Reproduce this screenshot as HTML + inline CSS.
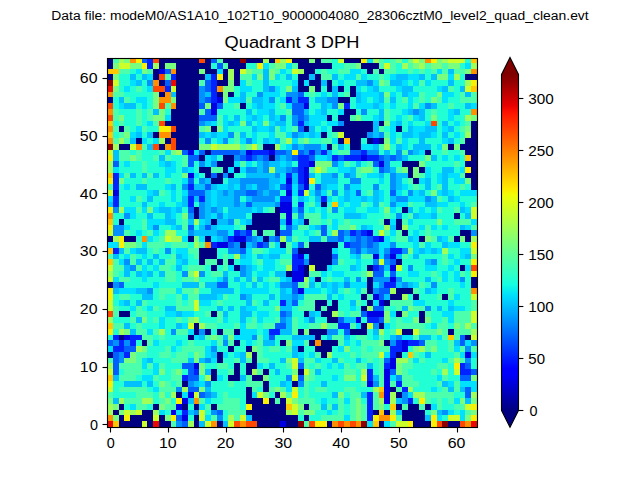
<!DOCTYPE html>
<html><head><meta charset="utf-8"><title>Quadrant 3 DPH</title>
<style>html,body{margin:0;padding:0;background:#fff;overflow:hidden}svg{display:block;position:absolute;left:0;top:0}text{font-family:"Liberation Sans",sans-serif;fill:#000}</style></head><body>
<svg width="640" height="480" viewBox="0 0 640 480">
<rect width="640" height="480" fill="#fff"/>
<defs><linearGradient id="jet" gradientUnits="userSpaceOnUse" x1="0" y1="74.4" x2="0" y2="410.4"><stop offset="0.0000" stop-color="#800000"/><stop offset="0.0156" stop-color="#8d0000"/><stop offset="0.0312" stop-color="#9f0000"/><stop offset="0.0469" stop-color="#b20000"/><stop offset="0.0625" stop-color="#c40000"/><stop offset="0.0781" stop-color="#d60000"/><stop offset="0.0938" stop-color="#e80000"/><stop offset="0.1094" stop-color="#fa0f00"/><stop offset="0.1250" stop-color="#ff1e00"/><stop offset="0.1406" stop-color="#ff2d00"/><stop offset="0.1562" stop-color="#ff3b00"/><stop offset="0.1719" stop-color="#ff4a00"/><stop offset="0.1875" stop-color="#ff5900"/><stop offset="0.2031" stop-color="#ff6800"/><stop offset="0.2188" stop-color="#ff7700"/><stop offset="0.2344" stop-color="#ff8600"/><stop offset="0.2500" stop-color="#ff9400"/><stop offset="0.2656" stop-color="#ffa300"/><stop offset="0.2812" stop-color="#ffb200"/><stop offset="0.2969" stop-color="#ffc100"/><stop offset="0.3125" stop-color="#ffd000"/><stop offset="0.3281" stop-color="#ffde00"/><stop offset="0.3438" stop-color="#feed00"/><stop offset="0.3594" stop-color="#f1fc06"/><stop offset="0.3750" stop-color="#e4ff13"/><stop offset="0.3906" stop-color="#d7ff1f"/><stop offset="0.4062" stop-color="#caff2c"/><stop offset="0.4219" stop-color="#beff39"/><stop offset="0.4375" stop-color="#b1ff46"/><stop offset="0.4531" stop-color="#a4ff53"/><stop offset="0.4688" stop-color="#97ff60"/><stop offset="0.4844" stop-color="#8aff6d"/><stop offset="0.5000" stop-color="#7dff7a"/><stop offset="0.5156" stop-color="#70ff87"/><stop offset="0.5312" stop-color="#63ff94"/><stop offset="0.5469" stop-color="#56ffa0"/><stop offset="0.5625" stop-color="#49ffad"/><stop offset="0.5781" stop-color="#3cffba"/><stop offset="0.5938" stop-color="#30ffc7"/><stop offset="0.6094" stop-color="#23ffd4"/><stop offset="0.6250" stop-color="#16ffe1"/><stop offset="0.6406" stop-color="#09f0ee"/><stop offset="0.6562" stop-color="#00e0fb"/><stop offset="0.6719" stop-color="#00d0ff"/><stop offset="0.6875" stop-color="#00c0ff"/><stop offset="0.7031" stop-color="#00b0ff"/><stop offset="0.7188" stop-color="#00a0ff"/><stop offset="0.7344" stop-color="#0090ff"/><stop offset="0.7500" stop-color="#0080ff"/><stop offset="0.7656" stop-color="#0070ff"/><stop offset="0.7812" stop-color="#0060ff"/><stop offset="0.7969" stop-color="#0050ff"/><stop offset="0.8125" stop-color="#0040ff"/><stop offset="0.8281" stop-color="#0030ff"/><stop offset="0.8438" stop-color="#0020ff"/><stop offset="0.8594" stop-color="#0010ff"/><stop offset="0.8750" stop-color="#0000ff"/><stop offset="0.8906" stop-color="#0000ff"/><stop offset="0.9062" stop-color="#0000ed"/><stop offset="0.9219" stop-color="#0000da"/><stop offset="0.9375" stop-color="#0000c8"/><stop offset="0.9531" stop-color="#0000b6"/><stop offset="0.9688" stop-color="#0000a4"/><stop offset="0.9844" stop-color="#000092"/><stop offset="1.0000" stop-color="#000080"/></linearGradient></defs>
<g shape-rendering="crispEdges">
<path fill="#000080" d="M107 58h6v5h-6zM159 58h40v5h-40zM205 58h6v5h-6zM223 58h17v5h-17zM246 58h17v5h-17zM269 58h6v5h-6zM292 58h17v5h-17zM315 58h6v5h-6zM344 58h17v5h-17zM107 63h6v6h-6zM159 63h6v6h-6zM176 63h35v6h-35zM228 63h18v6h-18zM298 63h34v6h-34zM361 63h18v6h-18zM153 69h6v5h-6zM176 69h23v5h-23zM205 69h12v5h-12zM223 69h5v5h-5zM234 69h6v5h-6zM304 69h11v5h-11zM367 69h6v5h-6zM379 69h5v5h-5zM107 74h6v6h-6zM153 74h6v6h-6zM176 74h29v6h-29zM223 74h5v6h-5zM234 74h6v6h-6zM298 74h11v6h-11zM315 74h6v6h-6zM465 74h13v6h-13zM159 80h6v6h-6zM176 80h23v6h-23zM217 80h11v6h-11zM234 80h6v6h-6zM298 80h6v6h-6zM309 80h12v6h-12zM327 80h5v6h-5zM176 86h23v6h-23zM298 86h11v6h-11zM315 86h6v6h-6zM327 86h5v6h-5zM338 86h6v6h-6zM350 86h6v6h-6zM159 92h6v5h-6zM176 92h23v5h-23zM217 92h6v5h-6zM228 92h6v5h-6zM350 92h6v5h-6zM107 97h6v6h-6zM176 97h23v6h-23zM338 97h12v6h-12zM176 103h23v6h-23zM240 103h6v6h-6zM171 109h28v6h-28zM344 109h12v6h-12zM171 115h28v6h-28zM327 115h5v6h-5zM338 115h12v6h-12zM165 121h34v5h-34zM344 121h29v5h-29zM379 121h5v5h-5zM471 121h7v5h-7zM119 126h5v6h-5zM176 126h23v6h-23zM211 126h6v6h-6zM304 126h5v6h-5zM332 126h41v6h-41zM396 126h6v6h-6zM471 126h7v6h-7zM153 132h6v6h-6zM171 132h28v6h-28zM321 132h6v6h-6zM344 132h23v6h-23zM471 132h7v6h-7zM136 138h6v6h-6zM165 138h6v6h-6zM176 138h23v6h-23zM338 138h6v6h-6zM350 138h11v6h-11zM367 138h6v6h-6zM379 138h5v6h-5zM465 138h13v6h-13zM119 144h11v6h-11zM159 144h6v6h-6zM176 144h23v6h-23zM263 144h12v6h-12zM327 144h5v6h-5zM350 144h11v6h-11zM448 144h6v6h-6zM460 144h18v6h-18zM205 150h6v5h-6zM425 150h6v5h-6zM465 150h13v5h-13zM199 155h6v6h-6zM223 155h11v6h-11zM269 155h6v6h-6zM471 155h7v6h-7zM217 161h17v6h-17zM402 161h17v6h-17zM465 161h13v6h-13zM199 167h12v6h-12zM223 167h5v6h-5zM234 167h6v6h-6zM408 167h5v6h-5zM419 167h6v6h-6zM471 167h7v6h-7zM205 173h6v5h-6zM217 173h6v5h-6zM228 173h6v5h-6zM408 173h5v5h-5zM465 173h13v5h-13zM211 178h12v6h-12zM413 178h6v6h-6zM471 178h7v6h-7zM471 184h7v6h-7zM321 202h6v5h-6zM194 207h5v6h-5zM275 207h5v6h-5zM402 207h6v6h-6zM194 213h5v6h-5zM252 213h28v6h-28zM454 213h6v6h-6zM119 219h5v6h-5zM211 219h6v6h-6zM252 219h28v6h-28zM304 219h5v6h-5zM384 219h6v6h-6zM396 219h6v6h-6zM246 225h34v5h-34zM396 225h6v5h-6zM257 230h6v6h-6zM275 230h5v6h-5zM402 230h6v6h-6zM460 230h11v6h-11zM107 236h6v6h-6zM124 236h12v6h-12zM188 236h6v6h-6zM205 236h6v6h-6zM263 236h6v6h-6zM419 236h6v6h-6zM454 236h6v6h-6zM465 236h6v6h-6zM240 242h6v6h-6zM280 242h6v6h-6zM309 242h29v6h-29zM199 248h18v6h-18zM298 248h34v6h-34zM199 254h18v5h-18zM309 254h23v5h-23zM199 259h6v6h-6zM217 259h6v6h-6zM228 259h6v6h-6zM309 259h23v6h-23zM396 259h6v6h-6zM211 265h6v6h-6zM234 265h6v6h-6zM304 265h5v6h-5zM315 265h12v6h-12zM367 265h6v6h-6zM460 265h5v6h-5zM286 271h6v6h-6zM304 271h5v6h-5zM315 277h6v5h-6zM367 277h6v5h-6zM471 277h7v5h-7zM107 282h6v6h-6zM367 282h6v6h-6zM471 282h7v6h-7zM367 288h6v6h-6zM396 288h17v6h-17zM361 294h6v6h-6zM390 294h12v6h-12zM413 294h6v6h-6zM442 294h6v6h-6zM315 300h12v6h-12zM332 300h6v6h-6zM367 300h6v6h-6zM384 300h6v6h-6zM315 306h6v5h-6zM327 306h11v5h-11zM361 306h6v5h-6zM119 311h11v6h-11zM211 311h6v6h-6zM304 311h5v6h-5zM321 311h11v6h-11zM396 311h6v6h-6zM419 311h6v6h-6zM327 317h11v6h-11zM419 317h6v6h-6zM194 323h5v6h-5zM361 323h6v6h-6zM379 323h5v6h-5zM194 329h5v6h-5zM205 329h6v6h-6zM217 329h6v6h-6zM234 329h6v6h-6zM298 329h6v6h-6zM309 329h18v6h-18zM350 329h17v6h-17zM402 329h11v6h-11zM448 329h6v6h-6zM119 335h5v5h-5zM188 335h6v5h-6zM315 335h6v5h-6zM465 335h6v5h-6zM142 340h5v6h-5zM234 340h6v6h-6zM280 340h6v6h-6zM309 340h6v6h-6zM321 340h17v6h-17zM384 340h6v6h-6zM228 346h6v6h-6zM246 346h6v6h-6zM298 346h6v6h-6zM315 346h17v6h-17zM107 352h6v6h-6zM217 352h6v6h-6zM252 352h5v6h-5zM321 352h6v6h-6zM396 352h6v6h-6zM217 358h6v5h-6zM252 358h5v5h-5zM234 363h6v6h-6zM246 363h11v6h-11zM211 369h6v6h-6zM234 369h6v6h-6zM246 369h6v6h-6zM263 369h6v6h-6zM298 369h6v6h-6zM211 375h6v6h-6zM228 375h12v6h-12zM252 375h11v6h-11zM182 381h6v6h-6zM263 381h6v6h-6zM292 381h6v6h-6zM246 387h6v5h-6zM263 387h6v5h-6zM390 387h6v5h-6zM176 392h6v6h-6zM246 392h6v6h-6zM275 392h5v6h-5zM396 392h6v6h-6zM246 398h17v6h-17zM269 398h6v6h-6zM280 398h6v6h-6zM119 404h5v6h-5zM153 404h6v6h-6zM182 404h6v6h-6zM194 404h5v6h-5zM211 404h6v6h-6zM252 404h34v6h-34zM304 404h5v6h-5zM396 404h6v6h-6zM408 404h11v6h-11zM425 404h6v6h-6zM113 410h6v5h-6zM142 410h11v5h-11zM246 410h40v5h-40zM373 410h6v5h-6zM384 410h6v5h-6zM402 410h23v5h-23zM119 415h5v6h-5zM130 415h23v6h-23zM159 415h6v6h-6zM194 415h5v6h-5zM252 415h46v6h-46zM304 415h5v6h-5zM402 415h23v6h-23zM119 421h23v7h-23zM147 421h6v7h-6zM159 421h12v7h-12zM194 421h5v7h-5zM217 421h6v7h-6zM257 421h23v7h-23zM286 421h12v7h-12zM327 421h5v7h-5zM379 421h5v7h-5zM413 421h18v7h-18zM448 421h12v7h-12z"/>
<path fill="#0000e4" d="M159 69h6v5h-6zM217 97h6v6h-6zM211 103h6v6h-6zM304 103h5v6h-5zM211 109h6v6h-6zM373 138h6v6h-6zM188 150h6v5h-6zM246 150h6v5h-6zM269 150h6v5h-6zM361 155h6v6h-6zM309 161h6v6h-6zM379 161h5v6h-5zM304 167h5v6h-5zM188 173h6v5h-6zM304 173h5v5h-5zM286 178h6v6h-6zM304 178h5v6h-5zM304 184h5v6h-5zM113 190h6v6h-6zM286 190h6v6h-6zM280 202h12v5h-12zM280 207h12v6h-12zM286 213h6v6h-6zM286 219h6v6h-6zM367 230h6v6h-6zM234 236h12v6h-12zM379 236h5v6h-5zM217 242h11v6h-11zM298 254h6v5h-6zM373 254h6v5h-6zM390 254h6v5h-6zM298 265h6v6h-6zM390 265h6v6h-6zM292 271h12v6h-12zM292 277h12v5h-12zM390 277h6v5h-6zM298 288h6v6h-6zM373 294h6v6h-6zM379 300h5v6h-5zM367 311h17v6h-17zM356 317h5v6h-5zM124 335h6v5h-6zM402 340h6v6h-6zM402 346h6v6h-6zM465 352h6v6h-6zM390 358h6v5h-6zM194 363h5v6h-5zM390 363h6v6h-6zM384 369h6v6h-6zM384 375h6v6h-6zM367 381h6v6h-6zM384 381h6v6h-6zM384 387h6v5h-6zM188 392h6v6h-6zM384 392h6v6h-6zM182 398h6v6h-6zM384 398h6v6h-6zM176 404h6v6h-6zM171 410h5v5h-5zM182 415h6v6h-6zM280 421h6v7h-6z"/>
<path fill="#0023ff" d="M147 58h6v5h-6zM147 63h6v6h-6zM171 74h5v6h-5zM211 74h6v6h-6zM211 80h6v6h-6zM165 86h6v6h-6zM211 86h6v6h-6zM211 92h6v5h-6zM211 97h6v6h-6zM286 97h6v6h-6zM298 97h11v6h-11zM344 103h6v6h-6zM298 121h6v5h-6zM252 150h17v5h-17zM309 150h6v5h-6zM321 150h6v5h-6zM361 150h6v5h-6zM246 155h6v6h-6zM298 155h11v6h-11zM332 155h6v6h-6zM344 155h17v6h-17zM367 155h12v6h-12zM298 161h11v6h-11zM298 167h6v6h-6zM113 173h6v5h-6zM286 173h6v5h-6zM298 173h6v5h-6zM113 178h6v6h-6zM298 178h6v6h-6zM113 184h6v6h-6zM188 184h6v6h-6zM286 184h6v6h-6zM298 190h6v6h-6zM113 196h6v6h-6zM188 196h6v6h-6zM199 196h6v6h-6zM280 196h12v6h-12zM321 196h6v6h-6zM113 202h6v5h-6zM188 202h6v5h-6zM298 202h6v5h-6zM234 230h6v6h-6zM246 230h6v6h-6zM350 230h6v6h-6zM361 230h6v6h-6zM228 236h6v6h-6zM373 236h6v6h-6zM211 242h6v6h-6zM257 242h6v6h-6zM344 242h6v6h-6zM113 248h6v6h-6zM390 248h12v6h-12zM292 254h6v5h-6zM292 259h12v6h-12zM292 265h6v6h-6zM373 265h6v6h-6zM384 282h12v6h-12zM280 300h6v6h-6zM367 317h12v6h-12zM338 323h12v6h-12zM269 329h11v6h-11zM113 335h6v5h-6zM130 335h12v5h-12zM119 340h5v6h-5zM130 340h6v6h-6zM396 340h6v6h-6zM408 340h11v6h-11zM113 346h11v6h-11zM390 346h12v6h-12zM124 352h6v6h-6zM390 352h6v6h-6zM384 363h6v6h-6zM460 363h5v6h-5zM194 369h5v6h-5zM367 369h6v6h-6zM460 369h11v6h-11zM182 375h6v6h-6zM367 375h6v6h-6zM396 381h6v6h-6zM402 387h6v5h-6zM367 392h6v6h-6zM367 398h6v6h-6zM408 398h5v6h-5zM367 404h6v6h-6zM182 410h6v5h-6zM367 410h6v5h-6zM367 415h6v6h-6z"/>
<path fill="#005fff" d="M142 58h5v5h-5zM211 58h6v5h-6zM217 63h6v6h-6zM165 69h6v5h-6zM165 80h6v6h-6zM205 80h6v6h-6zM205 86h6v6h-6zM298 92h6v5h-6zM205 97h6v6h-6zM199 103h6v6h-6zM217 103h6v6h-6zM292 103h12v6h-12zM205 109h6v6h-6zM292 109h12v6h-12zM199 115h18v6h-18zM298 115h6v6h-6zM298 126h6v6h-6zM182 150h6v5h-6zM199 150h6v5h-6zM211 150h29v5h-29zM275 150h11v5h-11zM298 150h6v5h-6zM350 150h11v5h-11zM188 155h11v6h-11zM240 155h6v6h-6zM252 155h5v6h-5zM263 155h6v6h-6zM292 155h6v6h-6zM309 155h6v6h-6zM338 155h6v6h-6zM379 155h5v6h-5zM390 155h6v6h-6zM113 161h6v6h-6zM188 161h6v6h-6zM373 161h6v6h-6zM292 167h6v6h-6zM379 167h5v6h-5zM211 173h6v5h-6zM188 178h6v6h-6zM205 184h6v6h-6zM280 184h6v6h-6zM298 184h6v6h-6zM315 184h6v6h-6zM188 190h17v6h-17zM246 190h11v6h-11zM356 190h5v6h-5zM390 190h6v6h-6zM246 202h6v5h-6zM188 207h6v6h-6zM298 207h6v6h-6zM188 225h6v5h-6zM205 225h6v5h-6zM286 225h6v5h-6zM321 225h6v5h-6zM240 230h6v6h-6zM280 230h12v6h-12zM321 230h6v6h-6zM338 230h6v6h-6zM356 230h5v6h-5zM246 236h6v6h-6zM275 236h5v6h-5zM338 236h6v6h-6zM356 236h5v6h-5zM367 236h6v6h-6zM228 242h6v6h-6zM263 242h6v6h-6zM298 242h6v6h-6zM350 242h11v6h-11zM367 242h6v6h-6zM240 248h6v6h-6zM292 248h6v6h-6zM356 248h5v6h-5zM332 254h6v5h-6zM384 254h6v5h-6zM390 259h6v6h-6zM379 265h5v6h-5zM373 271h11v6h-11zM390 271h6v6h-6zM119 282h5v6h-5zM217 282h11v6h-11zM292 282h6v6h-6zM292 288h6v6h-6zM379 288h11v6h-11zM379 294h5v6h-5zM292 300h6v6h-6zM373 306h11v5h-11zM280 311h6v6h-6zM361 311h6v6h-6zM338 317h6v6h-6zM379 317h5v6h-5zM275 323h11v6h-11zM344 329h6v6h-6zM269 335h6v5h-6zM460 335h5v5h-5zM107 340h6v6h-6zM419 340h6v6h-6zM460 340h5v6h-5zM124 346h12v6h-12zM113 352h6v6h-6zM113 358h6v5h-6zM384 358h6v5h-6zM113 363h6v6h-6zM182 363h12v6h-12zM298 363h6v6h-6zM465 363h6v6h-6zM113 369h6v6h-6zM188 369h6v6h-6zM390 369h6v6h-6zM471 369h7v6h-7zM188 375h11v6h-11zM298 375h6v6h-6zM460 375h11v6h-11zM188 387h11v5h-11zM465 387h6v5h-6zM199 392h6v6h-6zM465 392h6v6h-6zM217 410h6v5h-6zM176 415h6v6h-6zM182 421h6v7h-6z"/>
<path fill="#0091ff" d="M147 80h6v6h-6zM367 80h6v6h-6zM199 86h6v6h-6zM269 86h6v6h-6zM199 92h6v5h-6zM257 92h6v5h-6zM286 92h12v5h-12zM199 97h6v6h-6zM269 97h6v6h-6zM292 97h6v6h-6zM327 97h11v6h-11zM332 103h6v6h-6zM425 103h6v6h-6zM361 109h6v6h-6zM413 109h6v6h-6zM280 115h6v6h-6zM292 115h6v6h-6zM304 115h5v6h-5zM199 121h6v5h-6zM292 121h6v5h-6zM338 121h6v5h-6zM228 132h6v6h-6zM292 132h6v6h-6zM367 132h6v6h-6zM379 132h5v6h-5zM205 138h6v6h-6zM223 138h5v6h-5zM246 138h6v6h-6zM292 144h6v6h-6zM304 144h17v6h-17zM240 150h6v5h-6zM286 150h6v5h-6zM304 150h5v5h-5zM315 150h6v5h-6zM367 150h12v5h-12zM396 150h6v5h-6zM408 150h5v5h-5zM234 155h6v6h-6zM257 155h6v6h-6zM275 155h5v6h-5zM286 155h6v6h-6zM384 155h6v6h-6zM396 155h6v6h-6zM199 161h6v6h-6zM211 161h6v6h-6zM263 161h6v6h-6zM332 161h6v6h-6zM384 161h6v6h-6zM246 167h11v6h-11zM263 167h6v6h-6zM286 167h6v6h-6zM384 167h6v6h-6zM223 173h5v5h-5zM275 173h5v5h-5zM332 173h6v5h-6zM344 173h6v5h-6zM390 173h6v5h-6zM199 178h6v6h-6zM240 178h29v6h-29zM350 178h11v6h-11zM390 178h6v6h-6zM182 184h6v6h-6zM240 184h6v6h-6zM257 184h12v6h-12zM344 184h6v6h-6zM373 184h6v6h-6zM390 184h6v6h-6zM223 190h5v6h-5zM234 190h12v6h-12zM257 190h6v6h-6zM269 190h11v6h-11zM315 190h6v6h-6zM332 190h6v6h-6zM408 190h5v6h-5zM234 196h6v6h-6zM252 196h23v6h-23zM396 196h12v6h-12zM425 196h6v6h-6zM199 202h6v5h-6zM234 202h6v5h-6zM275 202h5v5h-5zM390 202h6v5h-6zM113 207h6v6h-6zM199 207h6v6h-6zM211 207h6v6h-6zM332 207h6v6h-6zM124 213h6v6h-6zM188 213h6v6h-6zM199 213h6v6h-6zM217 213h6v6h-6zM298 213h6v6h-6zM396 213h6v6h-6zM228 219h6v6h-6zM113 225h11v5h-11zM153 225h6v5h-6zM113 230h11v6h-11zM188 230h6v6h-6zM217 230h11v6h-11zM344 230h6v6h-6zM471 230h7v6h-7zM223 236h5v6h-5zM252 236h5v6h-5zM269 236h6v6h-6zM327 236h11v6h-11zM350 236h6v6h-6zM361 236h6v6h-6zM234 242h6v6h-6zM252 242h5v6h-5zM361 242h6v6h-6zM373 242h6v6h-6zM390 242h6v6h-6zM165 248h6v6h-6zM228 248h12v6h-12zM350 248h6v6h-6zM367 248h12v6h-12zM384 248h6v6h-6zM402 248h6v6h-6zM124 259h6v6h-6zM304 259h5v6h-5zM332 259h6v6h-6zM373 259h6v6h-6zM384 259h6v6h-6zM431 259h6v6h-6zM130 265h6v6h-6zM240 265h6v6h-6zM408 265h5v6h-5zM182 271h6v6h-6zM199 271h6v6h-6zM240 271h6v6h-6zM223 277h5v5h-5zM356 277h5v5h-5zM373 277h17v5h-17zM396 277h6v5h-6zM460 277h5v5h-5zM113 282h6v6h-6zM280 282h12v6h-12zM344 282h6v6h-6zM379 282h5v6h-5zM402 282h6v6h-6zM431 282h6v6h-6zM147 288h6v6h-6zM373 288h6v6h-6zM240 294h6v6h-6zM292 294h6v6h-6zM425 306h6v5h-6zM286 311h6v6h-6zM280 317h6v6h-6zM309 317h6v6h-6zM373 323h6v6h-6zM171 329h5v6h-5zM199 329h6v6h-6zM327 329h11v6h-11zM252 335h5v5h-5zM396 335h6v5h-6zM113 340h6v6h-6zM124 340h6v6h-6zM223 340h5v6h-5zM390 340h6v6h-6zM471 340h7v6h-7zM211 346h6v6h-6zM465 346h6v6h-6zM119 352h5v6h-5zM119 358h5v5h-5zM205 358h6v5h-6zM465 358h6v5h-6zM286 375h6v6h-6zM396 375h6v6h-6zM188 381h6v6h-6zM205 381h6v6h-6zM298 381h6v6h-6zM373 381h6v6h-6zM176 387h6v5h-6zM205 392h6v6h-6zM402 392h6v6h-6zM402 398h6v6h-6zM194 410h5v5h-5zM211 410h6v5h-6zM442 410h6v5h-6zM217 415h6v6h-6zM176 421h6v7h-6z"/>
<path fill="#00c0ff" d="M263 69h6v5h-6zM448 69h6v5h-6zM130 74h6v6h-6zM142 74h5v6h-5zM205 74h6v6h-6zM263 74h6v6h-6zM286 74h6v6h-6zM309 74h6v6h-6zM332 74h6v6h-6zM396 74h12v6h-12zM419 74h6v6h-6zM431 74h6v6h-6zM136 80h6v6h-6zM263 80h6v6h-6zM321 80h6v6h-6zM356 80h11v6h-11zM390 80h12v6h-12zM448 80h6v6h-6zM263 86h6v6h-6zM292 86h6v6h-6zM332 86h6v6h-6zM373 86h6v6h-6zM402 86h11v6h-11zM442 86h6v6h-6zM460 86h5v6h-5zM171 92h5v5h-5zM205 92h6v5h-6zM240 92h6v5h-6zM332 92h6v5h-6zM356 92h5v5h-5zM379 92h5v5h-5zM402 92h6v5h-6zM465 92h6v5h-6zM119 97h5v6h-5zM240 97h6v6h-6zM252 97h11v6h-11zM315 97h12v6h-12zM356 97h5v6h-5zM379 97h5v6h-5zM390 97h6v6h-6zM124 103h12v6h-12zM257 103h6v6h-6zM321 103h6v6h-6zM373 103h6v6h-6zM431 103h6v6h-6zM465 103h6v6h-6zM153 109h6v6h-6zM246 109h6v6h-6zM269 109h6v6h-6zM304 109h5v6h-5zM321 109h6v6h-6zM379 109h5v6h-5zM408 109h5v6h-5zM419 109h6v6h-6zM454 109h6v6h-6zM234 115h6v6h-6zM252 115h5v6h-5zM269 115h6v6h-6zM379 115h5v6h-5zM419 115h6v6h-6zM205 121h6v5h-6zM228 121h6v5h-6zM246 121h6v5h-6zM275 121h11v5h-11zM304 121h5v5h-5zM373 121h6v5h-6zM396 121h6v5h-6zM442 121h6v5h-6zM252 126h5v6h-5zM269 126h6v6h-6zM309 126h6v6h-6zM373 126h6v6h-6zM408 126h5v6h-5zM425 126h12v6h-12zM448 126h6v6h-6zM136 132h6v6h-6zM147 132h6v6h-6zM199 132h6v6h-6zM211 132h6v6h-6zM240 132h6v6h-6zM298 132h6v6h-6zM309 132h6v6h-6zM373 132h6v6h-6zM402 132h11v6h-11zM419 132h12v6h-12zM442 132h6v6h-6zM130 138h6v6h-6zM263 138h6v6h-6zM275 138h5v6h-5zM419 138h6v6h-6zM448 138h6v6h-6zM147 144h6v6h-6zM298 144h6v6h-6zM338 144h6v6h-6zM373 144h6v6h-6zM396 144h6v6h-6zM413 144h18v6h-18zM113 150h6v5h-6zM327 150h5v5h-5zM384 150h6v5h-6zM413 150h6v5h-6zM113 155h6v6h-6zM159 155h6v6h-6zM211 155h6v6h-6zM280 155h6v6h-6zM327 155h5v6h-5zM402 155h6v6h-6zM431 155h6v6h-6zM165 161h6v6h-6zM257 161h6v6h-6zM269 161h11v6h-11zM286 161h6v6h-6zM356 161h5v6h-5zM182 167h6v6h-6zM257 167h6v6h-6zM275 167h11v6h-11zM350 167h6v6h-6zM390 167h6v6h-6zM442 167h12v6h-12zM130 173h6v5h-6zM142 173h5v5h-5zM153 173h6v5h-6zM246 173h29v5h-29zM292 173h6v5h-6zM309 173h6v5h-6zM321 173h11v5h-11zM350 173h6v5h-6zM379 173h5v5h-5zM396 173h12v5h-12zM442 173h6v5h-6zM205 178h6v6h-6zM228 178h12v6h-12zM269 178h11v6h-11zM292 178h6v6h-6zM321 178h17v6h-17zM396 178h6v6h-6zM425 178h6v6h-6zM442 178h6v6h-6zM136 184h11v6h-11zM171 184h5v6h-5zM194 184h11v6h-11zM211 184h6v6h-6zM228 184h6v6h-6zM246 184h6v6h-6zM269 184h6v6h-6zM321 184h6v6h-6zM396 184h6v6h-6zM425 184h6v6h-6zM442 184h6v6h-6zM153 190h6v6h-6zM205 190h6v6h-6zM217 190h6v6h-6zM228 190h6v6h-6zM263 190h6v6h-6zM344 190h6v6h-6zM373 190h6v6h-6zM419 190h6v6h-6zM442 190h6v6h-6zM147 196h6v6h-6zM182 196h6v6h-6zM194 196h5v6h-5zM205 196h6v6h-6zM217 196h17v6h-17zM246 196h6v6h-6zM298 196h6v6h-6zM315 196h6v6h-6zM344 196h6v6h-6zM361 196h6v6h-6zM373 196h6v6h-6zM390 196h6v6h-6zM431 196h6v6h-6zM448 196h6v6h-6zM107 202h6v5h-6zM142 202h5v5h-5zM182 202h6v5h-6zM205 202h6v5h-6zM217 202h17v5h-17zM240 202h6v5h-6zM252 202h23v5h-23zM373 202h6v5h-6zM425 202h12v5h-12zM159 207h12v6h-12zM176 207h6v6h-6zM205 207h6v6h-6zM217 207h6v6h-6zM228 207h24v6h-24zM257 207h6v6h-6zM292 207h6v6h-6zM408 207h5v6h-5zM460 207h5v6h-5zM147 213h6v6h-6zM165 213h6v6h-6zM205 213h6v6h-6zM228 213h18v6h-18zM344 213h17v6h-17zM413 213h6v6h-6zM431 213h6v6h-6zM465 213h6v6h-6zM165 219h11v6h-11zM188 219h6v6h-6zM205 219h6v6h-6zM217 219h11v6h-11zM246 219h6v6h-6zM280 219h6v6h-6zM298 219h6v6h-6zM176 225h6v5h-6zM199 225h6v5h-6zM211 225h6v5h-6zM292 225h6v5h-6zM315 225h6v5h-6zM361 225h6v5h-6zM390 225h6v5h-6zM460 225h5v5h-5zM194 230h23v6h-23zM217 236h6v6h-6zM257 236h6v6h-6zM286 236h6v6h-6zM309 236h12v6h-12zM344 236h6v6h-6zM408 236h5v6h-5zM437 236h5v6h-5zM246 242h6v6h-6zM442 242h6v6h-6zM119 248h5v6h-5zM136 248h11v6h-11zM361 248h6v6h-6zM419 248h6v6h-6zM431 248h6v6h-6zM113 254h6v5h-6zM153 254h6v5h-6zM176 254h6v5h-6zM240 254h6v5h-6zM257 254h6v5h-6zM269 254h11v5h-11zM356 254h5v5h-5zM396 254h6v5h-6zM413 254h6v5h-6zM465 254h6v5h-6zM136 259h6v6h-6zM147 259h6v6h-6zM159 259h6v6h-6zM182 259h6v6h-6zM425 259h6v6h-6zM124 265h6v6h-6zM176 265h6v6h-6zM246 265h6v6h-6zM350 265h6v6h-6zM384 265h6v6h-6zM124 271h6v6h-6zM136 271h6v6h-6zM147 271h6v6h-6zM159 271h6v6h-6zM223 271h5v6h-5zM246 271h6v6h-6zM275 271h11v6h-11zM234 277h6v5h-6zM246 277h6v5h-6zM257 277h6v5h-6zM286 277h6v5h-6zM344 277h6v5h-6zM425 277h6v5h-6zM182 282h17v6h-17zM205 282h12v6h-12zM252 282h5v6h-5zM309 282h6v6h-6zM321 282h6v6h-6zM332 282h6v6h-6zM396 282h6v6h-6zM408 282h5v6h-5zM113 288h6v6h-6zM136 288h11v6h-11zM211 288h23v6h-23zM280 288h6v6h-6zM332 288h6v6h-6zM425 288h6v6h-6zM142 294h11v6h-11zM199 294h18v6h-18zM246 294h6v6h-6zM269 294h6v6h-6zM280 294h12v6h-12zM298 294h6v6h-6zM327 294h5v6h-5zM384 294h6v6h-6zM124 300h6v6h-6zM136 300h6v6h-6zM246 300h6v6h-6zM263 300h6v6h-6zM286 300h6v6h-6zM350 300h6v6h-6zM165 306h11v5h-11zM217 306h6v5h-6zM228 306h6v5h-6zM240 306h6v5h-6zM280 306h12v5h-12zM402 306h6v5h-6zM437 306h5v5h-5zM448 306h6v5h-6zM176 311h6v6h-6zM223 311h5v6h-5zM240 311h12v6h-12zM309 311h6v6h-6zM136 317h6v6h-6zM240 317h6v6h-6zM286 317h6v6h-6zM344 317h12v6h-12zM124 323h6v6h-6zM176 323h6v6h-6zM286 323h6v6h-6zM130 329h6v6h-6zM280 329h12v6h-12zM373 329h6v6h-6zM199 335h6v5h-6zM223 335h5v5h-5zM292 335h23v5h-23zM327 335h5v5h-5zM344 335h6v5h-6zM390 335h6v5h-6zM419 335h12v5h-12zM263 340h12v6h-12zM454 340h6v6h-6zM292 346h6v6h-6zM211 352h6v6h-6zM240 352h6v6h-6zM292 352h6v6h-6zM425 352h6v6h-6zM147 358h6v5h-6zM188 358h6v5h-6zM199 358h6v5h-6zM240 358h6v5h-6zM280 358h6v5h-6zM298 358h6v5h-6zM332 358h6v5h-6zM356 358h5v5h-5zM269 363h6v6h-6zM367 363h6v6h-6zM205 369h6v6h-6zM275 369h5v6h-5zM315 369h6v6h-6zM113 375h6v6h-6zM240 375h6v6h-6zM373 375h6v6h-6zM124 381h18v6h-18zM147 381h6v6h-6zM194 381h5v6h-5zM280 381h6v6h-6zM321 381h6v6h-6zM442 381h6v6h-6zM205 387h6v5h-6zM448 387h6v5h-6zM460 387h5v5h-5zM211 392h6v6h-6zM332 392h6v6h-6zM361 392h6v6h-6zM113 398h6v6h-6zM188 398h6v6h-6zM396 398h6v6h-6zM465 398h6v6h-6zM321 404h6v6h-6zM332 404h6v6h-6zM188 410h6v5h-6zM396 410h6v5h-6zM437 410h5v5h-5zM246 415h6v6h-6zM425 415h6v6h-6zM199 421h6v7h-6zM223 421h5v7h-5z"/>
<path fill="#00e1ff" d="M367 58h6v5h-6zM263 63h6v6h-6zM286 63h6v6h-6zM465 63h6v6h-6zM136 69h6v5h-6zM217 69h6v5h-6zM280 69h6v5h-6zM350 69h11v5h-11zM437 69h5v5h-5zM147 74h6v6h-6zM252 74h5v6h-5zM275 74h5v6h-5zM344 74h12v6h-12zM361 74h6v6h-6zM390 74h6v6h-6zM408 74h11v6h-11zM448 74h6v6h-6zM130 80h6v6h-6zM240 80h6v6h-6zM292 80h6v6h-6zM304 80h5v6h-5zM338 80h6v6h-6zM373 80h6v6h-6zM402 80h6v6h-6zM413 80h6v6h-6zM425 80h6v6h-6zM124 86h6v6h-6zM147 86h6v6h-6zM240 86h12v6h-12zM275 86h5v6h-5zM356 86h5v6h-5zM367 86h6v6h-6zM396 86h6v6h-6zM437 86h5v6h-5zM263 92h17v5h-17zM321 92h6v5h-6zM361 92h18v5h-18zM390 92h6v5h-6zM408 92h11v5h-11zM442 92h12v5h-12zM136 97h11v6h-11zM228 97h12v6h-12zM263 97h6v6h-6zM280 97h6v6h-6zM361 97h6v6h-6zM373 97h6v6h-6zM408 97h5v6h-5zM442 97h6v6h-6zM119 103h5v6h-5zM142 103h5v6h-5zM252 103h5v6h-5zM263 103h12v6h-12zM286 103h6v6h-6zM327 103h5v6h-5zM356 103h17v6h-17zM379 103h5v6h-5zM390 103h6v6h-6zM408 103h5v6h-5zM419 103h6v6h-6zM471 103h7v6h-7zM257 109h12v6h-12zM315 109h6v6h-6zM338 109h6v6h-6zM402 109h6v6h-6zM448 109h6v6h-6zM165 115h6v6h-6zM223 115h5v6h-5zM246 115h6v6h-6zM257 115h6v6h-6zM275 115h5v6h-5zM309 115h18v6h-18zM373 115h6v6h-6zM396 115h6v6h-6zM413 115h6v6h-6zM448 115h6v6h-6zM147 121h6v5h-6zM211 121h6v5h-6zM223 121h5v5h-5zM234 121h6v5h-6zM257 121h6v5h-6zM269 121h6v5h-6zM309 121h12v5h-12zM327 121h11v5h-11zM390 121h6v5h-6zM408 121h5v5h-5zM425 121h6v5h-6zM454 121h6v5h-6zM136 126h6v6h-6zM223 126h5v6h-5zM257 126h12v6h-12zM280 126h6v6h-6zM321 126h6v6h-6zM390 126h6v6h-6zM413 126h12v6h-12zM442 126h6v6h-6zM130 132h6v6h-6zM205 132h6v6h-6zM217 132h11v6h-11zM252 132h5v6h-5zM269 132h6v6h-6zM286 132h6v6h-6zM304 132h5v6h-5zM315 132h6v6h-6zM390 132h6v6h-6zM413 132h6v6h-6zM431 132h6v6h-6zM454 132h6v6h-6zM142 138h5v6h-5zM153 138h6v6h-6zM217 138h6v6h-6zM240 138h6v6h-6zM252 138h5v6h-5zM269 138h6v6h-6zM292 138h6v6h-6zM332 138h6v6h-6zM390 138h6v6h-6zM402 138h6v6h-6zM442 138h6v6h-6zM286 144h6v6h-6zM321 144h6v6h-6zM361 144h12v6h-12zM402 144h6v6h-6zM437 144h5v6h-5zM165 150h6v5h-6zM194 150h5v5h-5zM419 150h6v5h-6zM205 155h6v6h-6zM315 155h12v6h-12zM442 155h6v6h-6zM454 155h6v6h-6zM124 161h6v6h-6zM159 161h6v6h-6zM171 161h5v6h-5zM205 161h6v6h-6zM234 161h6v6h-6zM246 161h6v6h-6zM280 161h6v6h-6zM338 161h6v6h-6zM113 167h6v6h-6zM165 167h11v6h-11zM188 167h6v6h-6zM228 167h6v6h-6zM240 167h6v6h-6zM338 167h12v6h-12zM425 167h6v6h-6zM460 167h5v6h-5zM119 173h5v5h-5zM165 173h6v5h-6zM194 173h5v5h-5zM280 173h6v5h-6zM367 173h12v5h-12zM425 173h6v5h-6zM437 173h5v5h-5zM448 173h12v5h-12zM182 178h6v6h-6zM280 178h6v6h-6zM379 178h5v6h-5zM419 178h6v6h-6zM437 178h5v6h-5zM454 178h11v6h-11zM124 184h6v6h-6zM165 184h6v6h-6zM217 184h11v6h-11zM234 184h6v6h-6zM252 184h5v6h-5zM275 184h5v6h-5zM292 184h6v6h-6zM327 184h11v6h-11zM350 184h11v6h-11zM402 184h6v6h-6zM147 190h6v6h-6zM171 190h5v6h-5zM182 190h6v6h-6zM211 190h6v6h-6zM292 190h6v6h-6zM309 190h6v6h-6zM321 190h6v6h-6zM350 190h6v6h-6zM379 190h5v6h-5zM396 190h6v6h-6zM413 190h6v6h-6zM437 190h5v6h-5zM448 190h6v6h-6zM460 190h18v6h-18zM107 196h6v6h-6zM130 196h6v6h-6zM171 196h5v6h-5zM211 196h6v6h-6zM275 196h5v6h-5zM304 196h5v6h-5zM327 196h5v6h-5zM338 196h6v6h-6zM350 196h11v6h-11zM367 196h6v6h-6zM379 196h5v6h-5zM408 196h17v6h-17zM454 196h6v6h-6zM159 202h6v5h-6zM176 202h6v5h-6zM211 202h6v5h-6zM315 202h6v5h-6zM338 202h6v5h-6zM350 202h11v5h-11zM396 202h12v5h-12zM437 202h11v5h-11zM460 202h5v5h-5zM124 207h12v6h-12zM142 207h5v6h-5zM153 207h6v6h-6zM171 207h5v6h-5zM252 207h5v6h-5zM309 207h6v6h-6zM321 207h6v6h-6zM344 207h12v6h-12zM367 207h12v6h-12zM390 207h6v6h-6zM419 207h6v6h-6zM431 207h6v6h-6zM465 207h6v6h-6zM130 213h6v6h-6zM171 213h5v6h-5zM211 213h6v6h-6zM223 213h5v6h-5zM321 213h6v6h-6zM361 213h6v6h-6zM419 213h12v6h-12zM147 219h18v6h-18zM199 219h6v6h-6zM240 219h6v6h-6zM292 219h6v6h-6zM332 219h6v6h-6zM390 219h6v6h-6zM408 219h5v6h-5zM471 219h7v6h-7zM124 225h6v5h-6zM147 225h6v5h-6zM171 225h5v5h-5zM217 225h17v5h-17zM309 225h6v5h-6zM332 225h6v5h-6zM367 225h6v5h-6zM419 225h6v5h-6zM431 225h6v5h-6zM442 225h6v5h-6zM465 225h6v5h-6zM136 230h6v6h-6zM153 230h6v6h-6zM228 230h6v6h-6zM304 230h5v6h-5zM390 230h6v6h-6zM413 230h6v6h-6zM147 236h6v6h-6zM182 236h6v6h-6zM199 236h6v6h-6zM211 236h6v6h-6zM384 236h6v6h-6zM413 236h6v6h-6zM442 236h6v6h-6zM107 242h12v6h-12zM142 242h5v6h-5zM275 242h5v6h-5zM292 242h6v6h-6zM379 242h11v6h-11zM413 242h6v6h-6zM425 242h6v6h-6zM448 242h12v6h-12zM130 248h6v6h-6zM176 248h12v6h-12zM246 248h6v6h-6zM269 248h17v6h-17zM332 248h6v6h-6zM379 248h5v6h-5zM413 248h6v6h-6zM425 248h6v6h-6zM437 248h5v6h-5zM460 248h11v6h-11zM124 254h6v5h-6zM142 254h5v5h-5zM182 254h6v5h-6zM246 254h6v5h-6zM263 254h6v5h-6zM304 254h5v5h-5zM350 254h6v5h-6zM379 254h5v5h-5zM448 254h6v5h-6zM460 254h5v5h-5zM119 259h5v6h-5zM176 259h6v6h-6zM240 259h12v6h-12zM263 259h12v6h-12zM356 259h5v6h-5zM454 259h6v6h-6zM142 265h5v6h-5zM153 265h6v6h-6zM228 265h6v6h-6zM252 265h5v6h-5zM263 265h12v6h-12zM327 265h5v6h-5zM356 265h5v6h-5zM425 265h12v6h-12zM448 265h6v6h-6zM465 265h6v6h-6zM142 271h5v6h-5zM257 271h12v6h-12zM321 271h6v6h-6zM332 271h12v6h-12zM408 271h11v6h-11zM442 271h6v6h-6zM454 271h6v6h-6zM113 277h6v5h-6zM142 277h5v5h-5zM217 277h6v5h-6zM280 277h6v5h-6zM309 277h6v5h-6zM442 277h6v5h-6zM454 277h6v5h-6zM153 282h6v6h-6zM240 282h6v6h-6zM263 282h6v6h-6zM275 282h5v6h-5zM327 282h5v6h-5zM338 282h6v6h-6zM350 282h17v6h-17zM373 282h6v6h-6zM413 282h6v6h-6zM460 282h5v6h-5zM119 288h17v6h-17zM176 288h6v6h-6zM240 288h29v6h-29zM286 288h6v6h-6zM304 288h17v6h-17zM327 288h5v6h-5zM356 288h5v6h-5zM431 288h6v6h-6zM182 294h6v6h-6zM217 294h6v6h-6zM338 294h6v6h-6zM454 294h6v6h-6zM119 300h5v6h-5zM199 300h12v6h-12zM373 300h6v6h-6zM413 300h12v6h-12zM448 300h6v6h-6zM130 306h6v5h-6zM147 306h6v5h-6zM246 306h11v5h-11zM350 306h6v5h-6zM454 306h11v5h-11zM165 311h11v6h-11zM182 311h12v6h-12zM257 311h12v6h-12zM315 311h6v6h-6zM390 311h6v6h-6zM442 311h12v6h-12zM159 317h6v6h-6zM223 317h5v6h-5zM257 317h6v6h-6zM304 317h5v6h-5zM448 317h6v6h-6zM159 323h6v6h-6zM182 323h6v6h-6zM240 323h6v6h-6zM356 323h5v6h-5zM384 323h6v6h-6zM431 323h6v6h-6zM147 329h6v6h-6zM188 329h6v6h-6zM240 329h17v6h-17zM263 329h6v6h-6zM194 335h5v5h-5zM234 335h18v5h-18zM263 335h6v5h-6zM373 335h6v5h-6zM402 335h11v5h-11zM437 335h5v5h-5zM153 340h6v6h-6zM176 340h6v6h-6zM211 340h6v6h-6zM246 340h6v6h-6zM292 340h12v6h-12zM344 340h6v6h-6zM356 340h5v6h-5zM465 340h6v6h-6zM107 346h6v6h-6zM171 346h5v6h-5zM205 346h6v6h-6zM338 346h6v6h-6zM454 346h6v6h-6zM205 352h6v6h-6zM223 352h5v6h-5zM234 352h6v6h-6zM298 352h6v6h-6zM309 352h6v6h-6zM384 352h6v6h-6zM460 352h5v6h-5zM471 352h7v6h-7zM142 358h5v5h-5zM211 358h6v5h-6zM315 358h6v5h-6zM413 358h6v5h-6zM442 358h6v5h-6zM142 363h5v6h-5zM153 363h6v6h-6zM257 363h6v6h-6zM327 363h5v6h-5zM338 363h6v6h-6zM153 369h6v6h-6zM142 375h11v6h-11zM217 375h6v6h-6zM332 375h6v6h-6zM390 375h6v6h-6zM437 375h5v6h-5zM199 381h6v6h-6zM286 381h6v6h-6zM448 381h6v6h-6zM460 381h18v6h-18zM153 387h6v5h-6zM286 387h6v5h-6zM431 387h6v5h-6zM471 387h7v5h-7zM182 392h6v6h-6zM252 392h5v6h-5zM408 392h5v6h-5zM205 398h6v6h-6zM321 398h6v6h-6zM344 398h6v6h-6zM454 398h6v6h-6zM130 404h6v6h-6zM199 404h6v6h-6zM431 404h6v6h-6zM159 410h6v5h-6zM176 410h6v5h-6zM327 410h5v5h-5zM448 410h6v5h-6zM460 410h5v5h-5zM205 415h6v6h-6zM344 415h6v6h-6zM437 415h5v6h-5zM460 415h5v6h-5zM367 421h6v7h-6zM384 421h6v7h-6z"/>
<path fill="#23ffd4" d="M332 58h6v5h-6zM384 58h6v5h-6zM402 58h6v5h-6zM465 58h6v5h-6zM211 63h6v6h-6zM246 63h11v6h-11zM332 63h12v6h-12zM396 63h6v6h-6zM460 63h5v6h-5zM130 69h6v5h-6zM286 69h6v5h-6zM315 69h6v5h-6zM327 69h11v5h-11zM361 69h6v5h-6zM396 69h12v5h-12zM413 69h6v5h-6zM425 69h6v5h-6zM119 74h11v6h-11zM136 74h6v6h-6zM280 74h6v6h-6zM292 74h6v6h-6zM338 74h6v6h-6zM367 74h12v6h-12zM384 74h6v6h-6zM425 74h6v6h-6zM460 74h5v6h-5zM119 80h11v6h-11zM142 80h5v6h-5zM252 80h11v6h-11zM269 80h23v6h-23zM332 80h6v6h-6zM344 80h12v6h-12zM408 80h5v6h-5zM431 80h17v6h-17zM454 80h11v6h-11zM119 86h5v6h-5zM130 86h6v6h-6zM142 86h5v6h-5zM234 86h6v6h-6zM252 86h11v6h-11zM280 86h6v6h-6zM321 86h6v6h-6zM344 86h6v6h-6zM361 86h6v6h-6zM379 86h17v6h-17zM413 86h24v6h-24zM454 86h6v6h-6zM124 92h29v5h-29zM234 92h6v5h-6zM246 92h11v5h-11zM280 92h6v5h-6zM304 92h5v5h-5zM315 92h6v5h-6zM327 92h5v5h-5zM338 92h6v5h-6zM396 92h6v5h-6zM425 92h12v5h-12zM454 92h6v5h-6zM113 97h6v6h-6zM130 97h6v6h-6zM147 97h6v6h-6zM275 97h5v6h-5zM309 97h6v6h-6zM350 97h6v6h-6zM367 97h6v6h-6zM396 97h6v6h-6zM413 97h6v6h-6zM425 97h6v6h-6zM448 97h12v6h-12zM113 103h6v6h-6zM136 103h6v6h-6zM147 103h6v6h-6zM223 103h11v6h-11zM246 103h6v6h-6zM275 103h5v6h-5zM309 103h12v6h-12zM350 103h6v6h-6zM384 103h6v6h-6zM396 103h12v6h-12zM437 103h11v6h-11zM454 103h11v6h-11zM119 109h17v6h-17zM142 109h5v6h-5zM165 109h6v6h-6zM217 109h29v6h-29zM252 109h5v6h-5zM275 109h11v6h-11zM309 109h6v6h-6zM327 109h11v6h-11zM356 109h5v6h-5zM367 109h12v6h-12zM390 109h12v6h-12zM425 109h6v6h-6zM437 109h11v6h-11zM460 109h11v6h-11zM124 115h12v6h-12zM142 115h5v6h-5zM228 115h6v6h-6zM240 115h6v6h-6zM263 115h6v6h-6zM286 115h6v6h-6zM332 115h6v6h-6zM361 115h12v6h-12zM390 115h6v6h-6zM402 115h6v6h-6zM425 115h6v6h-6zM437 115h11v6h-11zM454 115h11v6h-11zM113 121h6v5h-6zM124 121h12v5h-12zM142 121h5v5h-5zM252 121h5v5h-5zM286 121h6v5h-6zM321 121h6v5h-6zM402 121h6v5h-6zM413 121h12v5h-12zM437 121h5v5h-5zM448 121h6v5h-6zM460 121h5v5h-5zM130 126h6v6h-6zM147 126h12v6h-12zM228 126h24v6h-24zM286 126h6v6h-6zM315 126h6v6h-6zM327 126h5v6h-5zM384 126h6v6h-6zM402 126h6v6h-6zM437 126h5v6h-5zM454 126h6v6h-6zM113 132h6v6h-6zM142 132h5v6h-5zM246 132h6v6h-6zM257 132h12v6h-12zM327 132h5v6h-5zM396 132h6v6h-6zM437 132h5v6h-5zM448 132h6v6h-6zM460 132h5v6h-5zM147 138h6v6h-6zM199 138h6v6h-6zM211 138h6v6h-6zM228 138h6v6h-6zM257 138h6v6h-6zM309 138h12v6h-12zM361 138h6v6h-6zM408 138h11v6h-11zM425 138h17v6h-17zM454 138h6v6h-6zM280 144h6v6h-6zM344 144h6v6h-6zM390 144h6v6h-6zM408 144h5v6h-5zM431 144h6v6h-6zM130 150h6v5h-6zM142 150h17v5h-17zM332 150h6v5h-6zM379 150h5v5h-5zM390 150h6v5h-6zM431 150h11v5h-11zM448 150h12v5h-12zM142 155h11v6h-11zM171 155h11v6h-11zM217 155h6v6h-6zM408 155h17v6h-17zM437 155h5v6h-5zM448 155h6v6h-6zM460 155h5v6h-5zM119 161h5v6h-5zM130 161h12v6h-12zM147 161h12v6h-12zM176 161h6v6h-6zM194 161h5v6h-5zM252 161h5v6h-5zM292 161h6v6h-6zM350 161h6v6h-6zM361 161h6v6h-6zM390 161h12v6h-12zM425 161h29v6h-29zM460 161h5v6h-5zM119 167h23v6h-23zM147 167h18v6h-18zM176 167h6v6h-6zM194 167h5v6h-5zM327 167h11v6h-11zM373 167h6v6h-6zM431 167h11v6h-11zM454 167h6v6h-6zM136 173h6v5h-6zM159 173h6v5h-6zM171 173h11v5h-11zM199 173h6v5h-6zM234 173h12v5h-12zM315 173h6v5h-6zM338 173h6v5h-6zM361 173h6v5h-6zM384 173h6v5h-6zM431 173h6v5h-6zM124 178h18v6h-18zM147 178h18v6h-18zM171 178h11v6h-11zM194 178h5v6h-5zM223 178h5v6h-5zM315 178h6v6h-6zM338 178h12v6h-12zM361 178h18v6h-18zM384 178h6v6h-6zM402 178h6v6h-6zM431 178h6v6h-6zM448 178h6v6h-6zM119 184h5v6h-5zM130 184h6v6h-6zM147 184h18v6h-18zM176 184h6v6h-6zM309 184h6v6h-6zM338 184h6v6h-6zM361 184h12v6h-12zM379 184h11v6h-11zM408 184h5v6h-5zM419 184h6v6h-6zM431 184h6v6h-6zM448 184h12v6h-12zM465 184h6v6h-6zM119 190h28v6h-28zM165 190h6v6h-6zM176 190h6v6h-6zM280 190h6v6h-6zM338 190h6v6h-6zM361 190h6v6h-6zM384 190h6v6h-6zM402 190h6v6h-6zM425 190h6v6h-6zM454 190h6v6h-6zM119 196h11v6h-11zM142 196h5v6h-5zM153 196h18v6h-18zM176 196h6v6h-6zM240 196h6v6h-6zM292 196h6v6h-6zM309 196h6v6h-6zM332 196h6v6h-6zM384 196h6v6h-6zM442 196h6v6h-6zM460 196h18v6h-18zM119 202h23v5h-23zM147 202h12v5h-12zM165 202h11v5h-11zM194 202h5v5h-5zM292 202h6v5h-6zM304 202h5v5h-5zM327 202h5v5h-5zM344 202h6v5h-6zM367 202h6v5h-6zM384 202h6v5h-6zM413 202h12v5h-12zM448 202h12v5h-12zM465 202h6v5h-6zM182 207h6v6h-6zM223 207h5v6h-5zM263 207h6v6h-6zM304 207h5v6h-5zM315 207h6v6h-6zM338 207h6v6h-6zM356 207h11v6h-11zM379 207h5v6h-5zM396 207h6v6h-6zM413 207h6v6h-6zM425 207h6v6h-6zM442 207h12v6h-12zM113 213h11v6h-11zM136 213h11v6h-11zM153 213h12v6h-12zM176 213h6v6h-6zM246 213h6v6h-6zM327 213h17v6h-17zM367 213h17v6h-17zM390 213h6v6h-6zM402 213h6v6h-6zM437 213h17v6h-17zM460 213h5v6h-5zM113 219h6v6h-6zM124 219h18v6h-18zM176 219h6v6h-6zM321 219h6v6h-6zM338 219h6v6h-6zM350 219h29v6h-29zM413 219h24v6h-24zM442 219h12v6h-12zM130 225h12v5h-12zM159 225h12v5h-12zM194 225h5v5h-5zM234 225h6v5h-6zM280 225h6v5h-6zM327 225h5v5h-5zM356 225h5v5h-5zM373 225h11v5h-11zM408 225h11v5h-11zM437 225h5v5h-5zM448 225h12v5h-12zM130 230h6v6h-6zM142 230h5v6h-5zM159 230h6v6h-6zM176 230h12v6h-12zM292 230h12v6h-12zM309 230h6v6h-6zM327 230h5v6h-5zM373 230h6v6h-6zM408 230h5v6h-5zM419 230h6v6h-6zM431 230h29v6h-29zM136 236h6v6h-6zM153 236h6v6h-6zM298 236h11v6h-11zM390 236h6v6h-6zM165 242h6v6h-6zM188 242h6v6h-6zM338 242h6v6h-6zM396 242h17v6h-17zM431 242h11v6h-11zM460 242h11v6h-11zM147 248h6v6h-6zM159 248h6v6h-6zM171 248h5v6h-5zM217 248h11v6h-11zM263 248h6v6h-6zM338 248h12v6h-12zM448 248h12v6h-12zM119 254h5v5h-5zM136 254h6v5h-6zM147 254h6v5h-6zM159 254h12v5h-12zM188 254h6v5h-6zM217 254h6v5h-6zM228 254h6v5h-6zM252 254h5v5h-5zM280 254h12v5h-12zM338 254h12v5h-12zM408 254h5v5h-5zM419 254h23v5h-23zM454 254h6v5h-6zM142 259h5v6h-5zM153 259h6v6h-6zM188 259h11v6h-11zM234 259h6v6h-6zM252 259h5v6h-5zM275 259h5v6h-5zM344 259h12v6h-12zM361 259h12v6h-12zM402 259h23v6h-23zM437 259h5v6h-5zM448 259h6v6h-6zM460 259h11v6h-11zM147 265h6v6h-6zM171 265h5v6h-5zM182 265h6v6h-6zM205 265h6v6h-6zM217 265h6v6h-6zM257 265h6v6h-6zM275 265h11v6h-11zM332 265h18v6h-18zM361 265h6v6h-6zM402 265h6v6h-6zM413 265h12v6h-12zM437 265h11v6h-11zM454 265h6v6h-6zM119 271h5v6h-5zM130 271h6v6h-6zM153 271h6v6h-6zM176 271h6v6h-6zM205 271h6v6h-6zM228 271h12v6h-12zM252 271h5v6h-5zM269 271h6v6h-6zM327 271h5v6h-5zM344 271h17v6h-17zM384 271h6v6h-6zM396 271h12v6h-12zM419 271h12v6h-12zM437 271h5v6h-5zM448 271h6v6h-6zM465 271h6v6h-6zM130 277h12v5h-12zM147 277h18v5h-18zM176 277h6v5h-6zM199 277h18v5h-18zM228 277h6v5h-6zM240 277h6v5h-6zM263 277h6v5h-6zM321 277h6v5h-6zM332 277h12v5h-12zM350 277h6v5h-6zM361 277h6v5h-6zM402 277h23v5h-23zM431 277h6v5h-6zM448 277h6v5h-6zM465 277h6v5h-6zM124 282h29v6h-29zM159 282h23v6h-23zM228 282h12v6h-12zM246 282h6v6h-6zM257 282h6v6h-6zM269 282h6v6h-6zM315 282h6v6h-6zM425 282h6v6h-6zM437 282h23v6h-23zM465 282h6v6h-6zM153 288h6v6h-6zM199 288h12v6h-12zM234 288h6v6h-6zM269 288h11v6h-11zM321 288h6v6h-6zM338 288h6v6h-6zM350 288h6v6h-6zM419 288h6v6h-6zM437 288h11v6h-11zM454 288h17v6h-17zM113 294h6v6h-6zM130 294h12v6h-12zM153 294h6v6h-6zM165 294h11v6h-11zM228 294h12v6h-12zM252 294h17v6h-17zM275 294h5v6h-5zM332 294h6v6h-6zM344 294h17v6h-17zM408 294h5v6h-5zM419 294h18v6h-18zM460 294h11v6h-11zM113 300h6v6h-6zM130 300h6v6h-6zM147 300h29v6h-29zM182 300h6v6h-6zM211 300h6v6h-6zM223 300h23v6h-23zM257 300h6v6h-6zM269 300h11v6h-11zM298 300h6v6h-6zM327 300h5v6h-5zM338 300h12v6h-12zM361 300h6v6h-6zM425 300h23v6h-23zM454 300h17v6h-17zM119 306h11v5h-11zM142 306h5v5h-5zM159 306h6v5h-6zM199 306h18v5h-18zM223 306h5v5h-5zM234 306h6v5h-6zM257 306h18v5h-18zM292 306h6v5h-6zM338 306h12v5h-12zM356 306h5v5h-5zM390 306h6v5h-6zM431 306h6v5h-6zM442 306h6v5h-6zM465 306h6v5h-6zM130 311h6v6h-6zM147 311h18v6h-18zM194 311h11v6h-11zM228 311h12v6h-12zM252 311h5v6h-5zM269 311h11v6h-11zM292 311h12v6h-12zM344 311h6v6h-6zM408 311h11v6h-11zM431 311h11v6h-11zM113 317h17v6h-17zM147 317h6v6h-6zM165 317h11v6h-11zM182 317h6v6h-6zM199 317h18v6h-18zM228 317h12v6h-12zM246 317h6v6h-6zM263 317h12v6h-12zM298 317h6v6h-6zM315 317h12v6h-12zM361 317h6v6h-6zM390 317h6v6h-6zM402 317h11v6h-11zM431 317h11v6h-11zM130 323h6v6h-6zM142 323h17v6h-17zM165 323h11v6h-11zM217 323h17v6h-17zM257 323h6v6h-6zM298 323h11v6h-11zM390 323h6v6h-6zM425 323h6v6h-6zM448 323h6v6h-6zM113 329h6v6h-6zM165 329h6v6h-6zM211 329h6v6h-6zM257 329h6v6h-6zM338 329h6v6h-6zM367 329h6v6h-6zM384 329h6v6h-6zM107 335h6v5h-6zM153 335h6v5h-6zM165 335h23v5h-23zM275 335h17v5h-17zM321 335h6v5h-6zM350 335h6v5h-6zM367 335h6v5h-6zM384 335h6v5h-6zM431 335h6v5h-6zM136 340h6v6h-6zM159 340h17v6h-17zM182 340h6v6h-6zM194 340h17v6h-17zM240 340h6v6h-6zM252 340h5v6h-5zM275 340h5v6h-5zM350 340h6v6h-6zM437 340h11v6h-11zM147 346h18v6h-18zM176 346h6v6h-6zM217 346h11v6h-11zM234 346h12v6h-12zM263 346h6v6h-6zM280 346h6v6h-6zM304 346h11v6h-11zM332 346h6v6h-6zM350 346h11v6h-11zM367 346h6v6h-6zM408 346h5v6h-5zM437 346h11v6h-11zM147 352h12v6h-12zM171 352h5v6h-5zM188 352h6v6h-6zM228 352h6v6h-6zM263 352h29v6h-29zM304 352h5v6h-5zM332 352h18v6h-18zM356 352h5v6h-5zM402 352h6v6h-6zM419 352h6v6h-6zM431 352h23v6h-23zM153 358h18v5h-18zM223 358h11v5h-11zM269 358h11v5h-11zM321 358h11v5h-11zM344 358h12v5h-12zM361 358h6v5h-6zM373 358h6v5h-6zM425 358h17v5h-17zM471 358h7v5h-7zM165 363h17v6h-17zM205 363h12v6h-12zM228 363h6v6h-6zM240 363h6v6h-6zM263 363h6v6h-6zM275 363h11v6h-11zM309 363h6v6h-6zM321 363h6v6h-6zM332 363h6v6h-6zM350 363h6v6h-6zM373 363h6v6h-6zM413 363h24v6h-24zM448 363h6v6h-6zM471 363h7v6h-7zM119 369h5v6h-5zM142 369h11v6h-11zM165 369h6v6h-6zM182 369h6v6h-6zM217 369h11v6h-11zM240 369h6v6h-6zM269 369h6v6h-6zM280 369h12v6h-12zM321 369h23v6h-23zM356 369h5v6h-5zM373 369h6v6h-6zM408 369h23v6h-23zM437 369h5v6h-5zM448 369h6v6h-6zM136 375h6v6h-6zM159 375h12v6h-12zM199 375h6v6h-6zM223 375h5v6h-5zM269 375h17v6h-17zM315 375h17v6h-17zM338 375h6v6h-6zM356 375h5v6h-5zM413 375h24v6h-24zM448 375h12v6h-12zM113 381h11v6h-11zM142 381h5v6h-5zM153 381h6v6h-6zM171 381h5v6h-5zM211 381h17v6h-17zM234 381h12v6h-12zM269 381h11v6h-11zM309 381h12v6h-12zM327 381h34v6h-34zM419 381h18v6h-18zM113 387h6v5h-6zM147 387h6v5h-6zM211 387h35v5h-35zM257 387h6v5h-6zM298 387h6v5h-6zM309 387h6v5h-6zM327 387h17v5h-17zM356 387h17v5h-17zM413 387h18v5h-18zM437 387h5v5h-5zM113 392h23v6h-23zM153 392h6v6h-6zM165 392h6v6h-6zM217 392h6v6h-6zM228 392h18v6h-18zM269 392h6v6h-6zM298 392h6v6h-6zM309 392h23v6h-23zM344 392h6v6h-6zM454 392h11v6h-11zM153 398h6v6h-6zM171 398h5v6h-5zM211 398h12v6h-12zM240 398h6v6h-6zM315 398h6v6h-6zM327 398h11v6h-11zM361 398h6v6h-6zM413 398h6v6h-6zM431 398h6v6h-6zM442 398h6v6h-6zM124 404h6v6h-6zM147 404h6v6h-6zM188 404h6v6h-6zM240 404h6v6h-6zM344 404h6v6h-6zM384 404h6v6h-6zM442 404h12v6h-12zM165 410h6v5h-6zM205 410h6v5h-6zM223 410h5v5h-5zM315 410h12v5h-12zM332 410h6v5h-6zM344 410h6v5h-6zM425 410h6v5h-6zM454 410h6v5h-6zM188 415h6v6h-6zM223 415h5v6h-5zM298 415h6v6h-6zM309 415h12v6h-12zM442 415h6v6h-6z"/>
<path fill="#4bffac" d="M113 58h6v5h-6zM217 58h6v5h-6zM321 58h11v5h-11zM379 58h5v5h-5zM390 58h6v5h-6zM223 63h5v6h-5zM269 63h6v6h-6zM292 63h6v6h-6zM344 63h12v6h-12zM379 63h5v6h-5zM390 63h6v6h-6zM408 63h5v6h-5zM425 63h6v6h-6zM442 63h6v6h-6zM119 69h11v5h-11zM147 69h6v5h-6zM252 69h11v5h-11zM275 69h5v5h-5zM321 69h6v5h-6zM338 69h12v5h-12zM373 69h6v5h-6zM384 69h12v5h-12zM408 69h5v5h-5zM419 69h6v5h-6zM431 69h6v5h-6zM442 69h6v5h-6zM454 69h11v5h-11zM165 74h6v6h-6zM240 74h12v6h-12zM321 74h11v6h-11zM356 74h5v6h-5zM379 74h5v6h-5zM199 80h6v6h-6zM246 80h6v6h-6zM384 80h6v6h-6zM419 80h6v6h-6zM136 86h6v6h-6zM448 86h6v6h-6zM113 92h11v5h-11zM309 92h6v5h-6zM344 92h6v5h-6zM419 92h6v5h-6zM460 92h5v5h-5zM471 92h7v5h-7zM124 97h6v6h-6zM246 97h6v6h-6zM384 97h6v6h-6zM402 97h6v6h-6zM419 97h6v6h-6zM437 97h5v6h-5zM460 97h18v6h-18zM165 103h6v6h-6zM234 103h6v6h-6zM280 103h6v6h-6zM413 103h6v6h-6zM448 103h6v6h-6zM113 109h6v6h-6zM136 109h6v6h-6zM147 109h6v6h-6zM199 109h6v6h-6zM286 109h6v6h-6zM384 109h6v6h-6zM431 109h6v6h-6zM113 115h6v6h-6zM136 115h6v6h-6zM147 115h6v6h-6zM217 115h6v6h-6zM350 115h6v6h-6zM384 115h6v6h-6zM408 115h5v6h-5zM119 121h5v5h-5zM136 121h6v5h-6zM153 121h6v5h-6zM217 121h6v5h-6zM465 121h6v5h-6zM113 126h6v6h-6zM124 126h6v6h-6zM142 126h5v6h-5zM199 126h6v6h-6zM275 126h5v6h-5zM292 126h6v6h-6zM379 126h5v6h-5zM460 126h5v6h-5zM119 132h5v6h-5zM234 132h6v6h-6zM275 132h11v6h-11zM332 132h6v6h-6zM384 132h6v6h-6zM113 138h6v6h-6zM124 138h6v6h-6zM234 138h6v6h-6zM280 138h6v6h-6zM298 138h6v6h-6zM321 138h11v6h-11zM396 138h6v6h-6zM460 138h5v6h-5zM142 144h5v6h-5zM240 144h6v6h-6zM257 144h6v6h-6zM332 144h6v6h-6zM379 144h5v6h-5zM119 150h11v5h-11zM136 150h6v5h-6zM159 150h6v5h-6zM338 150h12v5h-12zM402 150h6v5h-6zM442 150h6v5h-6zM460 150h5v5h-5zM119 155h11v6h-11zM136 155h6v6h-6zM153 155h6v6h-6zM165 155h6v6h-6zM182 155h6v6h-6zM142 161h5v6h-5zM182 161h6v6h-6zM240 161h6v6h-6zM344 161h6v6h-6zM367 161h6v6h-6zM454 161h6v6h-6zM142 167h5v6h-5zM211 167h12v6h-12zM309 167h6v6h-6zM356 167h5v6h-5zM396 167h6v6h-6zM124 173h6v5h-6zM147 173h6v5h-6zM356 173h5v5h-5zM419 173h6v5h-6zM460 173h5v5h-5zM142 178h5v6h-5zM165 178h6v6h-6zM408 178h5v6h-5zM107 184h6v6h-6zM413 184h6v6h-6zM437 184h5v6h-5zM460 184h5v6h-5zM159 190h6v6h-6zM327 190h5v6h-5zM367 190h6v6h-6zM136 196h6v6h-6zM437 196h5v6h-5zM309 202h6v5h-6zM361 202h6v5h-6zM379 202h5v5h-5zM408 202h5v5h-5zM471 202h7v5h-7zM136 207h6v6h-6zM269 207h6v6h-6zM327 207h5v6h-5zM437 207h5v6h-5zM454 207h6v6h-6zM280 213h6v6h-6zM292 213h6v6h-6zM304 213h17v6h-17zM384 213h6v6h-6zM408 213h5v6h-5zM142 219h5v6h-5zM182 219h6v6h-6zM234 219h6v6h-6zM309 219h12v6h-12zM327 219h5v6h-5zM344 219h6v6h-6zM379 219h5v6h-5zM402 219h6v6h-6zM454 219h17v6h-17zM142 225h5v5h-5zM182 225h6v5h-6zM240 225h6v5h-6zM298 225h11v5h-11zM338 225h12v5h-12zM425 225h6v5h-6zM471 225h7v5h-7zM124 230h6v6h-6zM147 230h6v6h-6zM252 230h5v6h-5zM263 230h12v6h-12zM315 230h6v6h-6zM384 230h6v6h-6zM396 230h6v6h-6zM425 230h6v6h-6zM159 236h6v6h-6zM292 236h6v6h-6zM321 236h6v6h-6zM396 236h12v6h-12zM431 236h6v6h-6zM448 236h6v6h-6zM136 242h6v6h-6zM147 242h18v6h-18zM171 242h17v6h-17zM199 242h6v6h-6zM269 242h6v6h-6zM286 242h6v6h-6zM304 242h5v6h-5zM419 242h6v6h-6zM124 248h6v6h-6zM153 248h6v6h-6zM188 248h11v6h-11zM252 248h11v6h-11zM286 248h6v6h-6zM107 254h6v5h-6zM130 254h6v5h-6zM171 254h5v5h-5zM194 254h5v5h-5zM223 254h5v5h-5zM361 254h12v5h-12zM402 254h6v5h-6zM442 254h6v5h-6zM113 259h6v6h-6zM130 259h6v6h-6zM165 259h11v6h-11zM205 259h12v6h-12zM223 259h5v6h-5zM257 259h6v6h-6zM280 259h12v6h-12zM338 259h6v6h-6zM442 259h6v6h-6zM113 265h11v6h-11zM136 265h6v6h-6zM159 265h12v6h-12zM188 265h17v6h-17zM223 265h5v6h-5zM113 271h6v6h-6zM165 271h11v6h-11zM211 271h12v6h-12zM309 271h12v6h-12zM361 271h6v6h-6zM431 271h6v6h-6zM460 271h5v6h-5zM119 277h11v5h-11zM165 277h11v5h-11zM182 277h12v5h-12zM252 277h5v5h-5zM269 277h11v5h-11zM327 277h5v5h-5zM437 277h5v5h-5zM199 282h6v6h-6zM298 282h6v6h-6zM419 282h6v6h-6zM159 288h17v6h-17zM182 288h12v6h-12zM344 288h6v6h-6zM361 288h6v6h-6zM413 288h6v6h-6zM448 288h6v6h-6zM119 294h11v6h-11zM159 294h6v6h-6zM176 294h6v6h-6zM188 294h11v6h-11zM223 294h5v6h-5zM304 294h23v6h-23zM367 294h6v6h-6zM437 294h5v6h-5zM448 294h6v6h-6zM142 300h5v6h-5zM176 300h6v6h-6zM188 300h6v6h-6zM217 300h6v6h-6zM252 300h5v6h-5zM304 300h11v6h-11zM356 300h5v6h-5zM390 300h23v6h-23zM471 300h7v6h-7zM113 306h6v5h-6zM136 306h6v5h-6zM153 306h6v5h-6zM176 306h18v5h-18zM298 306h17v5h-17zM321 306h6v5h-6zM384 306h6v5h-6zM396 306h6v5h-6zM413 306h12v5h-12zM471 306h7v5h-7zM113 311h6v6h-6zM136 311h11v6h-11zM205 311h6v6h-6zM217 311h6v6h-6zM338 311h6v6h-6zM350 311h11v6h-11zM425 311h6v6h-6zM454 311h17v6h-17zM130 317h6v6h-6zM153 317h6v6h-6zM176 317h6v6h-6zM217 317h6v6h-6zM252 317h5v6h-5zM275 317h5v6h-5zM292 317h6v6h-6zM396 317h6v6h-6zM442 317h6v6h-6zM454 317h17v6h-17zM113 323h11v6h-11zM136 323h6v6h-6zM205 323h12v6h-12zM234 323h6v6h-6zM246 323h11v6h-11zM263 323h12v6h-12zM292 323h6v6h-6zM309 323h12v6h-12zM327 323h11v6h-11zM350 323h6v6h-6zM396 323h29v6h-29zM437 323h11v6h-11zM460 323h5v6h-5zM471 323h7v6h-7zM136 329h11v6h-11zM153 329h6v6h-6zM176 329h12v6h-12zM223 329h11v6h-11zM292 329h6v6h-6zM390 329h6v6h-6zM419 329h18v6h-18zM442 329h6v6h-6zM454 329h17v6h-17zM142 335h11v5h-11zM159 335h6v5h-6zM205 335h6v5h-6zM217 335h6v5h-6zM257 335h6v5h-6zM332 335h12v5h-12zM356 335h11v5h-11zM379 335h5v5h-5zM413 335h6v5h-6zM442 335h6v5h-6zM454 335h6v5h-6zM147 340h6v6h-6zM188 340h6v6h-6zM217 340h6v6h-6zM228 340h6v6h-6zM257 340h6v6h-6zM304 340h5v6h-5zM338 340h6v6h-6zM361 340h18v6h-18zM425 340h12v6h-12zM448 340h6v6h-6zM165 346h6v6h-6zM182 346h23v6h-23zM257 346h6v6h-6zM269 346h11v6h-11zM286 346h6v6h-6zM361 346h6v6h-6zM373 346h17v6h-17zM425 346h6v6h-6zM448 346h6v6h-6zM460 346h5v6h-5zM471 346h7v6h-7zM136 352h11v6h-11zM159 352h12v6h-12zM176 352h12v6h-12zM199 352h6v6h-6zM257 352h6v6h-6zM315 352h6v6h-6zM350 352h6v6h-6zM361 352h18v6h-18zM413 352h6v6h-6zM454 352h6v6h-6zM107 358h6v5h-6zM136 358h6v5h-6zM171 358h17v5h-17zM234 358h6v5h-6zM246 358h6v5h-6zM257 358h12v5h-12zM304 358h11v5h-11zM338 358h6v5h-6zM367 358h6v5h-6zM379 358h5v5h-5zM408 358h5v5h-5zM419 358h6v5h-6zM448 358h6v5h-6zM460 358h5v5h-5zM119 363h23v6h-23zM147 363h6v6h-6zM159 363h6v6h-6zM217 363h11v6h-11zM286 363h6v6h-6zM304 363h5v6h-5zM315 363h6v6h-6zM344 363h6v6h-6zM356 363h11v6h-11zM379 363h5v6h-5zM402 363h11v6h-11zM437 363h11v6h-11zM124 369h18v6h-18zM171 369h5v6h-5zM228 369h6v6h-6zM257 369h6v6h-6zM309 369h6v6h-6zM344 369h12v6h-12zM379 369h5v6h-5zM402 369h6v6h-6zM431 369h6v6h-6zM119 375h17v6h-17zM153 375h6v6h-6zM171 375h11v6h-11zM246 375h6v6h-6zM309 375h6v6h-6zM379 375h5v6h-5zM402 375h11v6h-11zM442 375h6v6h-6zM165 381h6v6h-6zM176 381h6v6h-6zM228 381h6v6h-6zM246 381h17v6h-17zM304 381h5v6h-5zM361 381h6v6h-6zM379 381h5v6h-5zM390 381h6v6h-6zM402 381h17v6h-17zM437 381h5v6h-5zM454 381h6v6h-6zM119 387h28v5h-28zM159 387h17v5h-17zM252 387h5v5h-5zM269 387h6v5h-6zM280 387h6v5h-6zM304 387h5v5h-5zM315 387h12v5h-12zM344 387h12v5h-12zM396 387h6v5h-6zM442 387h6v5h-6zM454 387h6v5h-6zM107 392h6v6h-6zM136 392h17v6h-17zM223 392h5v6h-5zM286 392h6v6h-6zM304 392h5v6h-5zM350 392h11v6h-11zM373 392h6v6h-6zM425 392h29v6h-29zM124 398h18v6h-18zM159 398h6v6h-6zM199 398h6v6h-6zM223 398h17v6h-17zM275 398h5v6h-5zM298 398h17v6h-17zM338 398h6v6h-6zM350 398h6v6h-6zM373 398h6v6h-6zM425 398h6v6h-6zM437 398h5v6h-5zM448 398h6v6h-6zM136 404h11v6h-11zM165 404h11v6h-11zM205 404h6v6h-6zM217 404h23v6h-23zM309 404h12v6h-12zM327 404h5v6h-5zM338 404h6v6h-6zM350 404h6v6h-6zM361 404h6v6h-6zM373 404h6v6h-6zM402 404h6v6h-6zM419 404h6v6h-6zM437 404h5v6h-5zM454 404h11v6h-11zM228 410h18v5h-18zM298 410h6v5h-6zM338 410h6v5h-6zM350 410h6v5h-6zM361 410h6v5h-6zM465 410h6v5h-6zM211 415h6v6h-6zM234 415h6v6h-6zM321 415h23v6h-23zM350 415h6v6h-6zM361 415h6v6h-6zM396 415h6v6h-6zM171 421h5v7h-5zM304 421h5v7h-5zM390 421h6v7h-6z"/>
<path fill="#78ff80" d="M124 58h6v5h-6zM309 58h6v5h-6zM396 58h6v5h-6zM408 58h5v5h-5zM419 58h6v5h-6zM437 58h5v5h-5zM113 63h6v6h-6zM130 63h12v6h-12zM165 63h11v6h-11zM275 63h11v6h-11zM356 63h5v6h-5zM413 63h6v6h-6zM431 63h11v6h-11zM448 63h12v6h-12zM142 69h5v5h-5zM199 69h6v5h-6zM246 69h6v5h-6zM269 69h6v5h-6zM465 69h6v5h-6zM113 74h6v6h-6zM257 74h6v6h-6zM269 74h6v6h-6zM437 74h11v6h-11zM228 80h6v6h-6zM379 80h5v6h-5zM113 86h6v6h-6zM223 86h11v6h-11zM286 86h6v6h-6zM309 86h6v6h-6zM153 92h6v5h-6zM223 92h5v5h-5zM384 92h6v5h-6zM437 92h5v5h-5zM153 97h6v6h-6zM171 97h5v6h-5zM223 97h5v6h-5zM431 97h6v6h-6zM153 103h6v6h-6zM205 103h6v6h-6zM338 103h6v6h-6zM159 109h6v6h-6zM119 115h5v6h-5zM153 115h12v6h-12zM356 115h5v6h-5zM431 115h6v6h-6zM471 115h7v6h-7zM240 121h6v5h-6zM263 121h6v5h-6zM384 121h6v5h-6zM205 126h6v6h-6zM217 126h6v6h-6zM465 126h6v6h-6zM124 132h6v6h-6zM304 138h5v6h-5zM384 138h6v6h-6zM199 144h12v6h-12zM246 144h6v6h-6zM442 144h6v6h-6zM454 144h6v6h-6zM171 150h5v5h-5zM130 155h6v6h-6zM425 155h6v6h-6zM315 161h17v6h-17zM419 161h6v6h-6zM321 167h6v6h-6zM361 167h12v6h-12zM402 167h6v6h-6zM413 167h6v6h-6zM182 173h6v5h-6zM413 173h6v5h-6zM119 178h5v6h-5zM465 178h6v6h-6zM431 190h6v6h-6zM147 207h6v6h-6zM384 207h6v6h-6zM182 213h6v6h-6zM437 219h5v6h-5zM350 225h6v5h-6zM194 236h5v6h-5zM425 236h6v6h-6zM460 236h5v6h-5zM124 242h12v6h-12zM408 248h5v6h-5zM471 254h7v5h-7zM188 271h6v6h-6zM194 277h5v5h-5zM304 282h5v6h-5zM194 288h5v6h-5zM275 306h5v5h-5zM408 306h5v5h-5zM384 311h6v6h-6zM402 311h6v6h-6zM142 317h5v6h-5zM188 317h6v6h-6zM384 317h6v6h-6zM413 317h6v6h-6zM425 317h6v6h-6zM454 323h6v6h-6zM124 329h6v6h-6zM304 329h5v6h-5zM437 329h5v6h-5zM211 335h6v5h-6zM228 335h6v5h-6zM286 340h6v6h-6zM379 340h5v6h-5zM142 346h5v6h-5zM252 346h5v6h-5zM344 346h6v6h-6zM413 346h6v6h-6zM431 346h6v6h-6zM130 352h6v6h-6zM194 352h5v6h-5zM124 358h12v5h-12zM194 358h5v5h-5zM286 358h6v5h-6zM199 363h6v6h-6zM396 363h6v6h-6zM159 369h6v6h-6zM176 369h6v6h-6zM199 369h6v6h-6zM292 369h6v6h-6zM396 369h6v6h-6zM263 375h6v6h-6zM304 375h5v6h-5zM344 375h12v6h-12zM471 375h7v6h-7zM159 381h6v6h-6zM199 387h6v5h-6zM275 387h5v5h-5zM159 392h6v6h-6zM263 392h6v6h-6zM338 392h6v6h-6zM107 398h6v6h-6zM165 398h6v6h-6zM292 398h6v6h-6zM356 398h5v6h-5zM460 398h5v6h-5zM471 398h7v6h-7zM113 404h6v6h-6zM159 404h6v6h-6zM298 404h6v6h-6zM356 404h5v6h-5zM379 404h5v6h-5zM119 410h5v5h-5zM304 410h11v5h-11zM356 410h5v5h-5zM431 410h6v5h-6zM471 410h7v5h-7zM113 415h6v6h-6zM165 415h6v6h-6zM356 415h5v6h-5zM465 415h6v6h-6z"/>
<path fill="#a0ff58" d="M119 58h5v5h-5zM263 58h6v5h-6zM280 58h6v5h-6zM373 58h6v5h-6zM442 58h6v5h-6zM153 63h6v6h-6zM402 63h6v6h-6zM419 63h6v6h-6zM471 63h7v6h-7zM228 69h6v5h-6zM298 69h6v5h-6zM228 74h6v6h-6zM454 74h6v6h-6zM465 80h6v6h-6zM465 115h6v6h-6zM465 132h6v6h-6zM119 138h5v6h-5zM159 138h6v6h-6zM286 138h6v6h-6zM113 144h6v6h-6zM217 144h23v6h-23zM275 144h5v6h-5zM384 144h6v6h-6zM176 150h6v5h-6zM107 161h6v6h-6zM107 167h6v6h-6zM269 167h6v6h-6zM119 207h5v6h-5zM194 219h5v6h-5zM384 225h6v5h-6zM402 225h6v5h-6zM165 230h11v6h-11zM332 230h6v6h-6zM113 236h6v6h-6zM171 236h11v6h-11zM280 236h6v6h-6zM471 236h7v6h-7zM194 242h5v6h-5zM442 248h6v6h-6zM234 254h6v5h-6zM286 265h6v6h-6zM107 271h6v6h-6zM367 271h6v6h-6zM304 277h5v5h-5zM390 288h6v6h-6zM402 294h6v6h-6zM367 306h6v5h-6zM332 311h6v6h-6zM107 317h6v6h-6zM194 317h5v6h-5zM199 323h6v6h-6zM321 323h6v6h-6zM465 323h6v6h-6zM119 329h5v6h-5zM159 329h6v6h-6zM379 329h5v6h-5zM471 329h7v6h-7zM136 346h6v6h-6zM419 346h6v6h-6zM246 352h6v6h-6zM327 352h5v6h-5zM396 358h12v5h-12zM454 358h6v5h-6zM107 363h6v6h-6zM252 369h5v6h-5zM361 369h6v6h-6zM442 369h6v6h-6zM205 375h6v6h-6zM182 387h6v5h-6zM373 387h6v5h-6zM408 387h5v5h-5zM171 392h5v6h-5zM280 392h6v6h-6zM390 392h6v6h-6zM413 392h12v6h-12zM471 392h7v6h-7zM119 398h5v6h-5zM142 398h11v6h-11zM379 398h5v6h-5zM390 398h6v6h-6zM107 404h6v6h-6zM107 410h6v5h-6zM130 410h6v5h-6zM153 410h6v5h-6zM286 410h6v5h-6zM390 410h6v5h-6zM228 415h6v6h-6zM188 421h6v7h-6z"/>
<path fill="#cdff2a" d="M338 58h6v5h-6zM413 58h6v5h-6zM448 58h17v5h-17zM119 63h11v6h-11zM384 63h6v6h-6zM240 69h6v5h-6zM292 69h6v5h-6zM113 80h6v6h-6zM171 86h5v6h-5zM465 86h6v6h-6zM338 132h6v6h-6zM130 144h6v6h-6zM211 144h6v6h-6zM252 144h5v6h-5zM107 150h6v5h-6zM315 167h6v6h-6zM107 190h6v6h-6zM304 190h5v6h-5zM471 207h7v6h-7zM471 213h7v6h-7zM107 230h6v6h-6zM379 230h5v6h-5zM165 236h6v6h-6zM471 248h7v6h-7zM379 259h5v6h-5zM107 265h6v6h-6zM309 265h6v6h-6zM396 265h6v6h-6zM194 271h5v6h-5zM107 277h6v5h-6zM471 294h7v6h-7zM107 300h6v6h-6zM194 300h5v6h-5zM107 306h6v5h-6zM194 306h5v5h-5zM471 311h7v6h-7zM471 317h7v6h-7zM188 323h6v6h-6zM367 323h6v6h-6zM396 329h6v6h-6zM413 329h6v6h-6zM471 335h7v5h-7zM379 352h5v6h-5zM292 358h6v5h-6zM292 363h6v6h-6zM107 369h6v6h-6zM304 369h5v6h-5zM454 369h6v6h-6zM292 375h6v6h-6zM361 375h6v6h-6zM107 387h6v5h-6zM292 387h6v5h-6zM194 392h5v6h-5zM257 392h6v6h-6zM286 398h6v6h-6zM292 404h6v6h-6zM465 404h6v6h-6zM124 410h6v5h-6zM136 410h6v5h-6zM199 410h6v5h-6zM292 410h6v5h-6zM153 415h6v6h-6zM199 415h6v6h-6zM240 415h6v6h-6zM448 415h12v6h-12zM142 421h5v7h-5zM205 421h6v7h-6zM228 421h6v7h-6zM396 421h12v7h-12z"/>
<path fill="#faf004" d="M136 58h6v5h-6zM286 58h6v5h-6zM361 58h6v5h-6zM431 58h6v5h-6zM142 63h5v6h-5zM257 63h6v6h-6zM217 74h6v6h-6zM471 80h7v6h-7zM159 126h12v6h-12zM292 150h6v5h-6zM107 155h6v6h-6zM465 167h6v6h-6zM107 178h6v6h-6zM309 178h6v6h-6zM107 207h6v6h-6zM107 225h6v5h-6zM119 236h5v6h-5zM119 242h5v6h-5zM471 242h7v6h-7zM471 259h7v6h-7zM471 271h7v6h-7zM107 288h6v6h-6zM107 294h6v6h-6zM107 329h6v6h-6zM454 363h6v6h-6zM107 381h6v6h-6zM292 392h6v6h-6zM176 398h6v6h-6zM263 398h6v6h-6zM419 398h6v6h-6zM246 404h6v6h-6zM471 404h7v6h-7zM124 415h6v6h-6zM171 415h5v6h-5zM373 415h6v6h-6zM390 415h6v6h-6zM431 415h6v6h-6zM471 415h7v6h-7zM315 421h12v7h-12zM408 421h5v7h-5zM431 421h6v7h-6z"/>
<path fill="#ff9100" d="M130 58h6v5h-6zM425 58h6v5h-6zM171 69h5v5h-5zM471 69h7v5h-7zM153 80h6v6h-6zM217 86h6v6h-6zM107 92h6v5h-6zM165 92h6v5h-6zM159 97h12v6h-12zM171 103h5v6h-5zM107 109h6v6h-6zM471 109h7v6h-7zM107 126h6v6h-6zM159 132h12v6h-12zM107 138h6v6h-6zM136 144h6v6h-6zM165 144h6v6h-6zM107 213h6v6h-6zM142 236h5v6h-5zM205 242h6v6h-6zM471 288h7v6h-7zM315 340h6v6h-6zM379 392h5v6h-5zM194 398h5v6h-5zM107 415h6v6h-6zM379 415h11v6h-11zM211 421h6v7h-6zM240 421h6v7h-6zM332 421h6v7h-6zM344 421h6v7h-6zM356 421h5v7h-5zM465 421h6v7h-6z"/>
<path fill="#ff4800" d="M153 58h6v5h-6zM199 58h6v5h-6zM159 74h6v6h-6zM153 86h12v6h-12zM107 103h6v6h-6zM159 103h6v6h-6zM107 115h6v6h-6zM159 121h6v5h-6zM431 121h6v5h-6zM171 126h5v6h-5zM171 138h5v6h-5zM153 144h6v6h-6zM171 144h5v6h-5zM471 265h7v6h-7zM107 311h6v6h-6zM234 421h6v7h-6zM246 421h11v7h-11zM309 421h6v7h-6zM338 421h6v7h-6zM350 421h6v7h-6zM437 421h5v7h-5zM460 421h5v7h-5z"/>
<path fill="#eb0a00" d="M171 80h5v6h-5zM107 86h6v6h-6zM107 421h6v7h-6zM153 421h6v7h-6zM471 421h7v7h-7z"/>
<path fill="#8c0000" d="M240 58h6v5h-6zM107 80h6v6h-6zM107 144h6v6h-6zM298 421h6v7h-6zM361 421h6v7h-6zM442 421h6v7h-6z"/>
<path fill="#ffc800" d="M275 58h5v5h-5zM471 58h7v5h-7zM107 69h12v5h-12zM471 86h7v6h-7zM107 121h6v5h-6zM107 132h6v6h-6zM344 138h6v6h-6zM465 155h6v6h-6zM107 173h6v5h-6zM332 202h6v5h-6zM107 219h6v6h-6zM107 248h6v6h-6zM107 259h6v6h-6zM107 323h6v6h-6zM448 335h6v5h-6zM408 352h5v6h-5zM107 375h6v6h-6zM379 387h5v5h-5zM286 404h6v6h-6zM390 404h6v6h-6zM379 410h5v5h-5zM113 421h6v7h-6zM373 421h6v7h-6z"/>
</g>
<rect x="107.5" y="58.5" width="370" height="369" fill="none" stroke="#000" stroke-width="1.11"/>
<g stroke="#000" stroke-width="1.11" fill="none">
<path d="M102.5 78.5H107"/>
<path d="M102.5 136.5H107"/>
<path d="M102.5 193.5H107"/>
<path d="M102.5 251.5H107"/>
<path d="M102.5 309.5H107"/>
<path d="M102.5 367.5H107"/>
<path d="M102.5 424.5H107"/>
<path d="M110.5 428V432.5"/>
<path d="M168.5 428V432.5"/>
<path d="M226.5 428V432.5"/>
<path d="M283.5 428V432.5"/>
<path d="M341.5 428V432.5"/>
<path d="M399.5 428V432.5"/>
<path d="M457.5 428V432.5"/>
</g>
<text x="106.87" y="448.00" font-size="13.89" textLength="8.00" lengthAdjust="spacingAndGlyphs" text-anchor="start">0</text>
<text x="90.04" y="429.51" font-size="13.89" textLength="8.00" lengthAdjust="spacingAndGlyphs" text-anchor="start">0</text>
<text x="159.00" y="448.00" font-size="13.89" textLength="17.68" lengthAdjust="spacingAndGlyphs" text-anchor="start">10</text>
<text x="79.81" y="371.76" font-size="13.89" textLength="17.68" lengthAdjust="spacingAndGlyphs" text-anchor="start">10</text>
<text x="216.75" y="448.00" font-size="13.89" textLength="17.68" lengthAdjust="spacingAndGlyphs" text-anchor="start">20</text>
<text x="79.81" y="314.01" font-size="13.89" textLength="17.68" lengthAdjust="spacingAndGlyphs" text-anchor="start">20</text>
<text x="274.50" y="448.00" font-size="13.89" textLength="17.68" lengthAdjust="spacingAndGlyphs" text-anchor="start">30</text>
<text x="79.81" y="256.26" font-size="13.89" textLength="17.68" lengthAdjust="spacingAndGlyphs" text-anchor="start">30</text>
<text x="332.25" y="448.00" font-size="13.89" textLength="17.68" lengthAdjust="spacingAndGlyphs" text-anchor="start">40</text>
<text x="79.81" y="198.51" font-size="13.89" textLength="17.68" lengthAdjust="spacingAndGlyphs" text-anchor="start">40</text>
<text x="390.00" y="448.00" font-size="13.89" textLength="17.68" lengthAdjust="spacingAndGlyphs" text-anchor="start">50</text>
<text x="79.81" y="140.76" font-size="13.89" textLength="17.68" lengthAdjust="spacingAndGlyphs" text-anchor="start">50</text>
<text x="447.75" y="448.00" font-size="13.89" textLength="17.68" lengthAdjust="spacingAndGlyphs" text-anchor="start">60</text>
<text x="79.81" y="83.01" font-size="13.89" textLength="17.68" lengthAdjust="spacingAndGlyphs" text-anchor="start">60</text>
<path d="M501.5 74.4L510.0 57.6L518.5 74.4L518.5 410.4L510.0 427.2L501.5 410.4z" fill="url(#jet)" stroke="#000" stroke-width="1.11" stroke-linejoin="miter"/>
<g stroke="#000" stroke-width="1.11" fill="none">
<path d="M519 410.5H523.4"/>
<path d="M519 358.5H523.4"/>
<path d="M519 306.5H523.4"/>
<path d="M519 254.5H523.4"/>
<path d="M519 202.5H523.4"/>
<path d="M519 150.5H523.4"/>
<path d="M519 98.5H523.4"/>
</g>
<text x="529.40" y="415.60" font-size="13.89" textLength="8.00" lengthAdjust="spacingAndGlyphs" text-anchor="start">0</text>
<text x="528.30" y="363.59" font-size="13.89" textLength="16.68" lengthAdjust="spacingAndGlyphs" text-anchor="start">50</text>
<text x="528.30" y="311.58" font-size="13.89" textLength="25.51" lengthAdjust="spacingAndGlyphs" text-anchor="start">100</text>
<text x="528.30" y="259.56" font-size="13.89" textLength="25.51" lengthAdjust="spacingAndGlyphs" text-anchor="start">150</text>
<text x="528.30" y="207.55" font-size="13.89" textLength="25.51" lengthAdjust="spacingAndGlyphs" text-anchor="start">200</text>
<text x="528.30" y="155.54" font-size="13.89" textLength="25.51" lengthAdjust="spacingAndGlyphs" text-anchor="start">250</text>
<text x="528.30" y="103.53" font-size="13.89" textLength="25.51" lengthAdjust="spacingAndGlyphs" text-anchor="start">300</text>
<text x="224.60" y="47.80" font-size="16.67" textLength="134.75" lengthAdjust="spacingAndGlyphs" text-anchor="start">Quadrant 3 DPH</text>
<text x="51.30" y="19.60" font-size="12.50" textLength="537.40" lengthAdjust="spacingAndGlyphs" text-anchor="start">Data file: modeM0/AS1A10_102T10_9000004080_28306cztM0_level2_quad_clean.evt</text>
</svg></body></html>
